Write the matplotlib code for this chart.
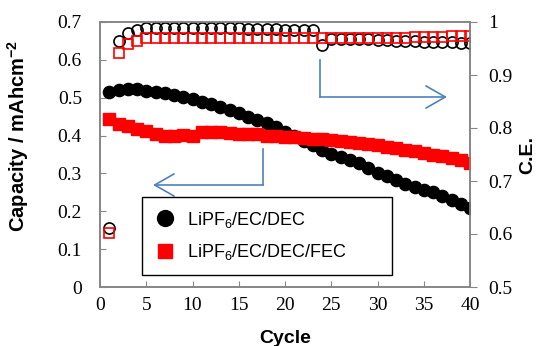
import matplotlib

matplotlib.use("Agg")
import matplotlib.pyplot as plt

AXIS = "#868686"
ARROW = "#4F81BD"
RED = "#ff0000"
SANS = ["Liberation Sans", "DejaVu Sans"]

plt.rcParams["font.family"] = "serif"
plt.rcParams["font.serif"] = ["Liberation Serif", "DejaVu Serif"]
plt.rcParams["mathtext.fontset"] = "custom"
plt.rcParams["mathtext.rm"] = "Liberation Sans"
plt.rcParams["mathtext.it"] = "Liberation Sans:italic"
plt.rcParams["mathtext.bf"] = "Liberation Sans:bold"

cycles = list(range(1, 41))

# capacity, mAh cm^-2 (filled markers, left axis)
cap_dec = [0.515, 0.52, 0.522, 0.522, 0.518, 0.515, 0.512, 0.507, 0.503, 0.497,
           0.489, 0.483, 0.476, 0.467, 0.459, 0.450, 0.441, 0.433, 0.422, 0.410,
           0.398, 0.386, 0.374, 0.362, 0.352, 0.343, 0.335, 0.327, 0.314, 0.300,
           0.292, 0.283, 0.273, 0.264, 0.257, 0.251, 0.241, 0.230, 0.220, 0.209]
cap_fec = [0.445, 0.430, 0.425, 0.418, 0.412, 0.405, 0.400, 0.400, 0.402, 0.400,
           0.410, 0.410, 0.410, 0.408, 0.405, 0.405, 0.403, 0.400, 0.400, 0.397,
           0.395, 0.393, 0.391, 0.390, 0.387, 0.385, 0.382, 0.380, 0.377, 0.374,
           0.371, 0.367, 0.363, 0.360, 0.355, 0.350, 0.345, 0.340, 0.335, 0.328]

# coulombic efficiency (open markers, right axis)
ce_dec = [0.611, 0.964, 0.979, 0.985, 0.988, 0.989, 0.989, 0.989, 0.989, 0.989,
          0.989, 0.989, 0.989, 0.988, 0.988, 0.987, 0.987, 0.986, 0.986, 0.985,
          0.985, 0.985, 0.984, 0.957, 0.967, 0.968, 0.968, 0.967, 0.967, 0.966,
          0.966, 0.965, 0.964, 0.964, 0.963, 0.963, 0.962, 0.962, 0.961, 0.960]
ce_fec = [0.602, 0.941, 0.958, 0.964, 0.969, 0.970, 0.970, 0.970, 0.970, 0.970,
          0.970, 0.970, 0.970, 0.970, 0.970, 0.970, 0.970, 0.970, 0.970, 0.970,
          0.970, 0.970, 0.970, 0.970, 0.970, 0.970, 0.970, 0.970, 0.970, 0.970,
          0.970, 0.970, 0.970, 0.971, 0.971, 0.972, 0.972, 0.973, 0.974, 0.974]

x_ticks = list(range(0, 41, 5))
left_ticks = [0, 0.1, 0.2, 0.3, 0.4, 0.5, 0.6, 0.7]
right_ticks = [0.5, 0.6, 0.7, 0.8, 0.9, 1.0]


def fmt(v):
    return "0" if v == 0 else ("1" if v == 1 else f"{v:.1f}")


fig = plt.figure(figsize=(5.46, 3.46), dpi=100)
ax = fig.add_axes([100 / 546, 1 - 287 / 346, 370 / 546, 265 / 346])
ax2 = ax.twinx()

ax.plot(cycles, cap_dec, "o", color="black", markersize=8.8, label="LiPF$_6$/EC/DEC", zorder=3)
ax.plot(cycles, cap_fec, "s", color=RED, markersize=8.0, label="LiPF$_6$/EC/DEC/FEC", zorder=4)
ax2.plot(cycles, ce_dec, "o", mfc="none", mec="black", mew=1.2, markersize=8.0)
ax2.plot(cycles, ce_fec, "s", mfc="none", mec=RED, mew=1.2, markersize=7.4)

ax.set_xlim(0, 40)
ax.set_ylim(0, 0.7)
ax2.set_ylim(0.5, 1.0)
ax.set_xticks(x_ticks)
ax.set_xticklabels([str(t) for t in x_ticks])
ax.set_yticks(left_ticks)
ax.set_yticklabels([fmt(t) for t in left_ticks])
ax2.set_yticks(right_ticks)
ax2.set_yticklabels([fmt(t) for t in right_ticks])

ax.tick_params(axis="x", direction="in", length=4, color=AXIS, pad=7, labelsize=14)
ax.tick_params(axis="y", direction="in", length=4, color=AXIS, pad=13, labelsize=14)
ax2.tick_params(axis="y", direction="out", length=5, color=AXIS, pad=8, labelsize=14)
for a in (ax, ax2):
    for spine in a.spines.values():
        spine.set_color(AXIS)
        spine.set_linewidth(1.2)

ax.set_xlabel("Cycle", family=SANS, fontweight="bold", fontsize=14, labelpad=12)
ax.set_ylabel("Capacity / mAhcm$^{\\mathbf{-2}}$", family=SANS, fontweight="bold", fontsize=14.5, labelpad=19)
ax.yaxis.label.set_y(0.57)
ax2.set_ylabel("C.E.", family=SANS, fontweight="bold", fontsize=14, labelpad=5)

leg = ax.legend(loc="lower left", bbox_to_anchor=(42 / 370, 12 / 265, 250 / 370, 78 / 265),
                mode="expand", borderaxespad=0, fancybox=False, edgecolor="black",
                framealpha=1, prop={"family": SANS, "size": 13}, handletextpad=0.6,
                labelspacing=0.7, borderpad=0.7, handlelength=1.2, markerscale=1.3)
leg.get_frame().set_linewidth(1.0)
leg.set_zorder(10)

# bent arrows pointing to the axis each series belongs to
head = "->,head_length=0.7,head_width=0.4"
ax.annotate("", xy=(153 / 546, 1 - 185 / 346), xytext=(263 / 546, 1 - 185 / 346),
            xycoords="figure fraction", textcoords="figure fraction",
            arrowprops=dict(arrowstyle=head, color=ARROW, lw=1.2, mutation_scale=20,
                            shrinkA=0, shrinkB=0))
ax.plot([263 / 546, 263 / 546], [1 - 149 / 346, 1 - 185 / 346], color=ARROW, lw=1.2,
        transform=fig.transFigure, clip_on=False)
ax.annotate("", xy=(447 / 546, 1 - 97 / 346), xytext=(320 / 546, 1 - 97 / 346),
            xycoords="figure fraction", textcoords="figure fraction",
            arrowprops=dict(arrowstyle=head, color=ARROW, lw=1.2, mutation_scale=20,
                            shrinkA=0, shrinkB=0))
ax.plot([320 / 546, 320 / 546], [1 - 60 / 346, 1 - 97 / 346], color=ARROW, lw=1.2,
        transform=fig.transFigure, clip_on=False)

fig.savefig("out.png", dpi=100, facecolor="white")
